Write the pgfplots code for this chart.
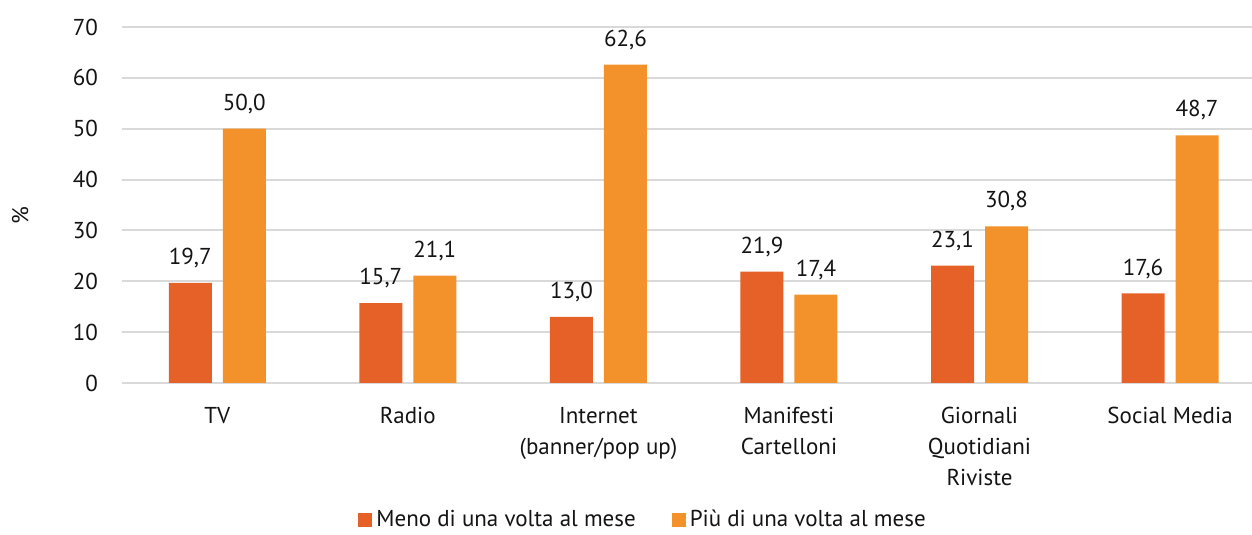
\documentclass[border=0pt]{standalone}
\usepackage{fontspec}
\setmainfont{PT Sans}
\usepackage{pgfplots}
\pgfplotsset{compat=1.18}
\definecolor{cMeno}{RGB}{230,97,40}
\definecolor{cPiu}{RGB}{243,146,42}
\definecolor{cGrid}{RGB}{217,217,217}
\definecolor{cInk}{RGB}{20,20,20}
\begin{document}
\begin{tikzpicture}
\useasboundingbox (-61pt,-76pt) rectangle (565pt,191.5pt);
\begin{axis}[
  scale only axis,
  width=565pt, height=178pt,
  at={(0,0)}, anchor=south west,
  ymin=0, ymax=70, ytick={0,10,...,70},
  xmin=-0.5, xmax=5.43,
  xtick=data,
  xticklabels={TV, Radio, {Internet\\(banner/pop up)}, {Manifesti\\Cartelloni},
               {Giornali\\Quotidiani\\Riviste}, Social Media},
  ymajorgrids=true,
  grid style={cGrid, line width=1pt},
  axis x line*=bottom, axis y line*=left,
  x axis line style={cGrid, line width=1pt},
  y axis line style={draw=none},
  major tick length=0pt,
  tick style={draw=none},
  font=\fontsize{11.5}{15.5}\selectfont,
  tick label style={font=\fontsize{11.5}{15.5}\selectfont, color=cInk},
  /pgf/number format/assume math mode=true,
  yticklabel style={xshift=-8.5pt},
  x tick label style={align=center, yshift=-8.5pt},
  ylabel={\%},
  ylabel style={at={(axis description cs:-0.09,0.47)}, anchor=center, color=cInk},
  ybar, bar width=21.5pt,
  nodes near coords,
  nodes near coords style={font=\fontsize{11.5}{14}\selectfont, color=cInk, yshift=4pt,
    /pgf/number format/.cd, fixed, fixed zerofill, precision=1, use comma,
    assume math mode=true},
  legend style={at={(0.462,-0.385)}, anchor=center, draw=none, fill=none,
    font=\fontsize{11.5}{14}\selectfont, text=cInk, legend columns=2,
    /tikz/every even column/.append style={column sep=16pt}},
  legend image code/.code={\fill[#1] (0pt,-3.5pt) rectangle (7pt,3.5pt);},
]
\addplot[fill=cMeno, draw=none, bar shift=-13.5pt] coordinates {
  (0,19.7) (1,15.7) (2,13.0) (3,21.9) (4,23.1) (5,17.6)};
\addplot[fill=cPiu, draw=none, bar shift=13.5pt] coordinates {
  (0,50.0) (1,21.1) (2,62.6) (3,17.4) (4,30.8) (5,48.7)};
\legend{Meno di una volta al mese, Più di una volta al mese}
\end{axis}
\end{tikzpicture}
\end{document}
